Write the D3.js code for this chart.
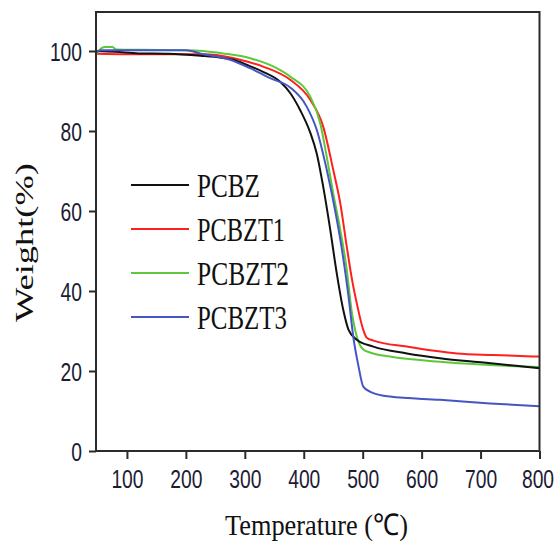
<!DOCTYPE html>
<html>
<head>
<meta charset="utf-8">
<script src="https://cdn.jsdelivr.net/npm/d3@7"></script>
<style>
  body { margin: 0; background: #fff; }
</style>
</head>
<body>
<div id="chart"></div>
<script>
/* TGA curves: weight (%) vs temperature (°C) */

const SERIES = ["PCBZ", "PCBZT1", "PCBZT2", "PCBZT3"];

const tempPCBZ   = [47, 80, 120, 170, 225, 260, 280, 304, 331, 360, 377, 394, 411, 422, 433, 445, 456, 467, 476, 490, 518, 575, 631, 705, 760, 800];
const weightPCBZ = [100.0, 99.8, 99.4, 99.3, 98.8, 98.3, 97.8, 96.5, 94.8, 92.3, 89.5, 85.2, 79.6, 74.4, 66.1, 55.3, 44.4, 35.3, 30.3, 27.8, 26.1, 24.4, 23.2, 22.1, 21.3, 20.7];

const tempPCBZT1   = [47, 100, 230, 252, 292, 331, 377, 411, 433, 450, 462, 473, 481, 490, 501, 507, 518, 575, 660, 720, 800];
const weightPCBZT1 = [99.3, 99.2, 99.2, 99.0, 97.8, 96.1, 92.8, 87.8, 81.1, 70.3, 61.9, 51.1, 43.6, 36.9, 30.3, 28.3, 27.6, 26.1, 24.4, 24.0, 23.6];

const tempPCBZT2   = [47, 55, 62, 75, 82, 120, 200, 229, 263, 309, 354, 377, 411, 428, 439, 450, 462, 473, 481, 490, 500, 515, 546, 631, 700, 800];
const weightPCBZT2 = [99.0, 100.5, 101.0, 101.0, 100.4, 100.3, 100.2, 100.0, 99.4, 98.2, 95.7, 93.6, 88.6, 81.9, 73.6, 64.4, 55.3, 45.3, 35.3, 28.6, 25.5, 24.5, 23.6, 22.3, 21.6, 21.0];

const tempPCBZT3   = [47, 55, 200, 224, 275, 309, 343, 377, 405, 422, 439, 453, 464, 476, 484, 493, 501, 513, 546, 631, 716, 800];
const weightPCBZT3 = [99.6, 100.2, 100.2, 99.4, 97.8, 95.7, 93.2, 90.9, 86.1, 80.3, 70.3, 60.3, 51.1, 38.6, 28.6, 21.1, 16.1, 14.8, 13.6, 12.8, 11.9, 11.2];

const X_TICKS = [100, 200, 300, 400, 500, 600, 700, 800];
const X_MINOR = [50, 150, 250, 350, 450, 550, 650, 750];
const Y_TICKS = [0, 20, 40, 60, 80, 100];
const Y_MINOR = [10, 30, 50, 70, 90];

const COLORS = { PCBZ: "#111111", PCBZT1: "#ff1f1f", PCBZT2: "#5cc83a", PCBZT3: "#4455c4" };
const DRAW_ORDER = ["PCBZT1", "PCBZT2", "PCBZ", "PCBZT3"];

const rows = {
  PCBZ:   d3.zip(tempPCBZ, weightPCBZ),
  PCBZT1: d3.zip(tempPCBZT1, weightPCBZT1),
  PCBZT2: d3.zip(tempPCBZT2, weightPCBZT2),
  PCBZT3: d3.zip(tempPCBZT3, weightPCBZT3)
};

const W = 558, H = 546;
const x = d3.scaleLinear().domain([47.5, 800]).range([96, 539.5]);
const y = d3.scaleLinear().domain([0, 109.75]).range([451, 12]);

const svg = d3.select("#chart").append("svg")
  .attr("width", W).attr("height", H)
  .style("background", "#fff");

const tickFont = "'Liberation Sans',Arial,sans-serif";
const serif = "'Liberation Serif','Times New Roman',serif";
const tickColor = "#1c1c34";
const SQ = 0.77; // the source figure is squeezed horizontally

/* ---------- axes ---------- */
const gx = svg.append("g").attr("transform", `translate(0,${y(0)})`);
gx.call(d3.axisBottom(x).tickValues(X_MINOR).tickSize(4).tickSizeOuter(0).tickFormat(""));
gx.call(d3.axisBottom(x).tickValues(X_TICKS).tickSize(8).tickSizeOuter(0).tickFormat(d3.format("d")));
gx.selectAll(".domain").remove();
gx.selectAll("line").attr("stroke", "#2b2b2b").attr("stroke-width", 2);
gx.selectAll("text")
  .attr("y", 0).attr("dy", null)
  .attr("transform", d => `translate(${d === 800 ? -2 : 0},37) scale(${SQ},1)`)
  .attr("fill", tickColor)
  .style("font-family", tickFont).style("font-size", "25px");

const gy = svg.append("g").attr("transform", `translate(${x.range()[0]},0)`);
gy.call(d3.axisLeft(y).tickValues(Y_MINOR).tickSize(3).tickSizeOuter(0).tickFormat(""));
gy.call(d3.axisLeft(y).tickValues(Y_TICKS).tickSize(7).tickSizeOuter(0).tickFormat(d3.format("d")));
gy.selectAll(".domain").remove();
gy.selectAll("line").attr("stroke", "#2b2b2b").attr("stroke-width", 2);
gy.selectAll("text")
  .attr("x", 0).attr("dy", "0.36em")
  .attr("transform", `translate(-14,0) scale(${SQ},1)`)
  .attr("fill", tickColor)
  .style("font-family", tickFont).style("font-size", "25px");

/* ---------- curves ---------- */
const line = d3.line()
  .x(d => x(d[0]))
  .y(d => y(d[1]))
  .curve(d3.curveMonotoneX);

svg.append("g").selectAll("path.curve")
  .data(DRAW_ORDER).enter().append("path")
  .attr("class", "curve")
  .attr("d", k => line(rows[k]))
  .attr("fill", "none")
  .attr("stroke", k => COLORS[k])
  .attr("stroke-width", 2);

/* frame */
svg.append("rect")
  .attr("x", x.range()[0]).attr("y", y.range()[1])
  .attr("width", x.range()[1] - x.range()[0])
  .attr("height", y.range()[0] - y.range()[1])
  .attr("fill", "none").attr("stroke", "#2b2b2b").attr("stroke-width", 2);

/* ---------- legend ---------- */
const legendW = { PCBZ: 63, PCBZT1: 88, PCBZT2: 92, PCBZT3: 90 };
const leg = svg.append("g").selectAll("g.leg")
  .data(SERIES).enter().append("g")
  .attr("class", "leg")
  .attr("transform", (d, i) => `translate(131,${185 + i * 44})`);
leg.append("line")
  .attr("x1", 0).attr("x2", 58)
  .attr("stroke", d => COLORS[d]).attr("stroke-width", 2);
leg.append("text")
  .attr("x", 66).attr("y", 11.5)
  .style("font-family", serif).style("font-size", "33px")
  .attr("fill", "#111")
  .attr("textLength", d => legendW[d])
  .attr("lengthAdjust", "spacingAndGlyphs")
  .text(d => d);

/* ---------- axis titles ---------- */
svg.append("text")
  .attr("x", 225).attr("y", 535)
  .style("font-family", serif).style("font-size", "30px")
  .attr("fill", "#111")
  .attr("textLength", 183).attr("lengthAdjust", "spacingAndGlyphs")
  .text("Temperature (℃)");

svg.append("text")
  .attr("transform", "translate(33,242.5) rotate(-90)")
  .attr("text-anchor", "middle")
  .style("font-family", serif).style("font-size", "26px")
  .attr("fill", "#111")
  .attr("textLength", 159).attr("lengthAdjust", "spacingAndGlyphs")
  .text("Weight(%)");
</script>
</body>
</html>
